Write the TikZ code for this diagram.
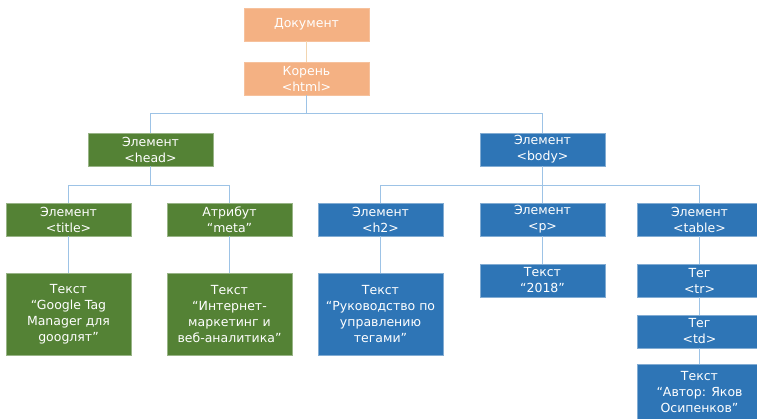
\documentclass[tikz,border=0pt]{standalone}
\usepackage{fontspec}
\setmainfont{DejaVu Sans}
\usetikzlibrary{positioning}
\definecolor{peach}{HTML}{F4B183}
\definecolor{leaf}{HTML}{548235}
\definecolor{sea}{HTML}{2E75B6}
\definecolor{wire}{HTML}{9DC3E6}
\definecolor{sand}{HTML}{F2D5B0}
\tikzset{box/.style = {minimum width=125pt, minimum height=33pt, inner sep=1pt,
    align=center, text=white, font=\fontsize{12.5}{16}\selectfont},
  rootbox/.style = {box, fill=peach, draw=peach!80!white},
  headbox/.style = {box, fill=leaf, draw=leaf!60!white},
  bodybox/.style = {box, fill=sea, draw=sea!60!white},
  link/.style = {draw=wire, line width=1pt}}

\begin{document}
\begin{tikzpicture}[x=1pt, y=-1pt]
  \useasboundingbox (0,0) rectangle (757,418);
  \node[rootbox] (doc) at (306.5,24.5) {Документ};
  \node[rootbox] (root) at (306.5,78.5) {Корень\\<html>};
  \node[headbox] (head) at (150.5,149.5) {Элемент\\<head>};
  \node[bodybox] (body) at (542.5,149.5) {Элемент\\<body>};
  % head branch
  \node[headbox] (title) at (68.5,219.5) {Элемент\\<title>};
  \node[headbox] (meta) at (229.5,219.5) {Атрибут\\“meta”};
  \node[headbox, minimum height=82pt] (titletext) at (68.5,314) {Текст\\“Google Tag\\Manager для\\googлят”};
  \node[headbox, minimum height=82pt] (metatext) at (229.5,314) {Текст\\“Интернет-\\маркетинг и\\веб-аналитика”};
  % body branch
  \node[bodybox] (htwo) at (380.5,219.5) {Элемент\\<h2>};
  \node[bodybox] (para) at (542.5,219.5) {Элемент\\<p>};
  \node[bodybox] (table) at (699.5,219.5) {Элемент\\<table>};
  \node[bodybox, minimum height=82pt] (htwotext) at (380.5,314) {Текст\\“Руководство по\\управлению\\тегами”};
  \node[bodybox] (paratext) at (542.5,280.5) {Текст\\“2018”};
  \node[bodybox] (tr) at (699.5,280.5) {Тег\\<tr>};
  \node[bodybox] (td) at (699.5,331.5) {Тег\\<td>};
  \node[bodybox, minimum height=56pt] (author) at (699.5,392) {Текст\\“Автор: Яков\\Осипенков”};

  \draw[link, draw=sand] (doc) -- (root);
  \draw[link] (root.south) -- ++(0,18) -| (head.north);
  \draw[link] (root.south) -- ++(0,18) -| (body.north);
  \draw[link] (head.south) -- ++(0,19) -| (title.north);
  \draw[link] (head.south) -- ++(0,19) -| (meta.north);
  \draw[link] (body.south) -- ++(0,19) -| (htwo.north);
  \draw[link] (body.south) -- (para.north);
  \draw[link] (body.south) -- ++(0,19) -| (table.north);
  \draw[link] (title) -- (titletext);
  \draw[link] (meta) -- (metatext);
  \draw[link] (htwo) -- (htwotext);
  \draw[link] (para) -- (paratext);
  \draw[link] (table) -- (tr);
  \draw[link] (tr) -- (td);
  \draw[link] (td) -- (author);
\end{tikzpicture}
\end{document}
